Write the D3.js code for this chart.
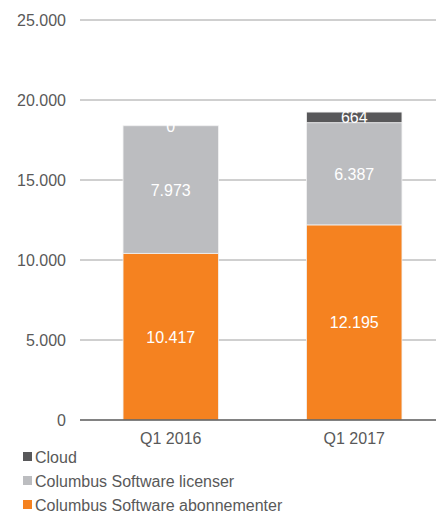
<!DOCTYPE html>
<html>
<head>
	<style>
		body, html { margin: 0; padding: 0; background: #fff; }
		text { font-family: "Liberation Sans", Arial, sans-serif; }
	</style>
</head>
<body>
	<svg id="svg" width="436" height="515"></svg>

	<script src="https://d3js.org/d3.v7.min.js"></script>
	<script>
		// Data
		const quarters = ['Q1 2016', 'Q1 2017']
		const abonnementer = [10417, 12195]
		const licenser = [7973, 6387]
		const cloud = [0, 664]
		const yTicks = [0, 5000, 10000, 15000, 20000, 25000]

		const seriesNames = ['Columbus Software abonnementer', 'Columbus Software licenser', 'Cloud']
		const colors = ['#F58220', '#BCBDC0', '#58585A']

		// table for the stack
		const rows = quarters.map((q, i) => ({
			q: q,
			'Columbus Software abonnementer': abonnementer[i],
			'Columbus Software licenser': licenser[i],
			'Cloud': cloud[i]
		}))
		const stacked = d3.stack().keys(seriesNames)(rows)

		const svg = d3.select('#svg')

		const x = d3.scaleBand().domain(quarters).range([79, 446]).paddingInner(0.48).paddingOuter(0.24)
		const y = d3.scaleLinear().domain([0, 25000]).range([420, 20])

		const fmt = v => d3.format(',')(v).replace(/,/g, '.')

		// gridlines
		svg.append('g')
			.selectAll('line')
			.data(yTicks.filter(t => t > 0))
			.join('line')
			.attr('x1', 80).attr('x2', 436)
			.attr('y1', d => y(d)).attr('y2', d => y(d))
			.attr('stroke', '#a0a0a0')
			.attr('stroke-width', 1)

		// tick labels
		svg.append('g')
			.selectAll('text')
			.data(yTicks)
			.join('text')
			.attr('x', 66)
			.attr('y', d => y(d) + 6)
			.attr('text-anchor', 'end')
			.attr('font-size', 16)
			.attr('fill', '#595959')
			.text(d => fmt(d))

		// bars
		const layers = svg.append('g')
			.selectAll('g')
			.data(stacked)
			.join('g')
			.attr('fill', (d, i) => colors[i])

		layers.selectAll('rect')
			.data(d => d)
			.join('rect')
			.attr('x', d => x(d.data.q))
			.attr('width', x.bandwidth())
			.attr('y', d => y(d[1]))
			.attr('height', d => y(d[0]) - y(d[1]))
			.attr('stroke', '#f2f2f2')
			.attr('stroke-width', 0.8)

		// value labels
		layers.selectAll('text')
			.data(d => d.map(p => ({ p: p, v: p[1] - p[0] })))
			.join('text')
			.attr('x', d => x(d.p.data.q) + x.bandwidth() / 2)
			.attr('y', d => (y(d.p[0]) + y(d.p[1])) / 2 + 6)
			.attr('text-anchor', 'middle')
			.attr('font-size', 16)
			.attr('fill', '#fff')
			.text(d => fmt(d.v))

		// baseline
		svg.append('line')
			.attr('x1', 80).attr('x2', 436)
			.attr('y1', y(0)).attr('y2', y(0))
			.attr('stroke', '#595959')
			.attr('stroke-width', 1.5)

		// category labels
		svg.append('g')
			.selectAll('text')
			.data(quarters)
			.join('text')
			.attr('x', d => x(d) + x.bandwidth() / 2)
			.attr('y', 444)
			.attr('text-anchor', 'middle')
			.attr('font-size', 16)
			.attr('fill', '#595959')
			.text(d => d)

		// legend, Cloud on top
		const legendItems = seriesNames.map((n, i) => ({ name: n, color: colors[i] })).reverse()
		const leg = svg.append('g')
			.selectAll('g')
			.data(legendItems)
			.join('g')
			.attr('transform', (d, i) => `translate(23, ${452 + i * 24})`)
		leg.append('rect')
			.attr('width', 9).attr('height', 9)
			.attr('fill', d => d.color)
		leg.append('text')
			.attr('x', 12)
			.attr('y', 11)
			.attr('font-size', 16)
			.attr('fill', '#595959')
			.text(d => d.name)
	</script>
</body>
</html>
